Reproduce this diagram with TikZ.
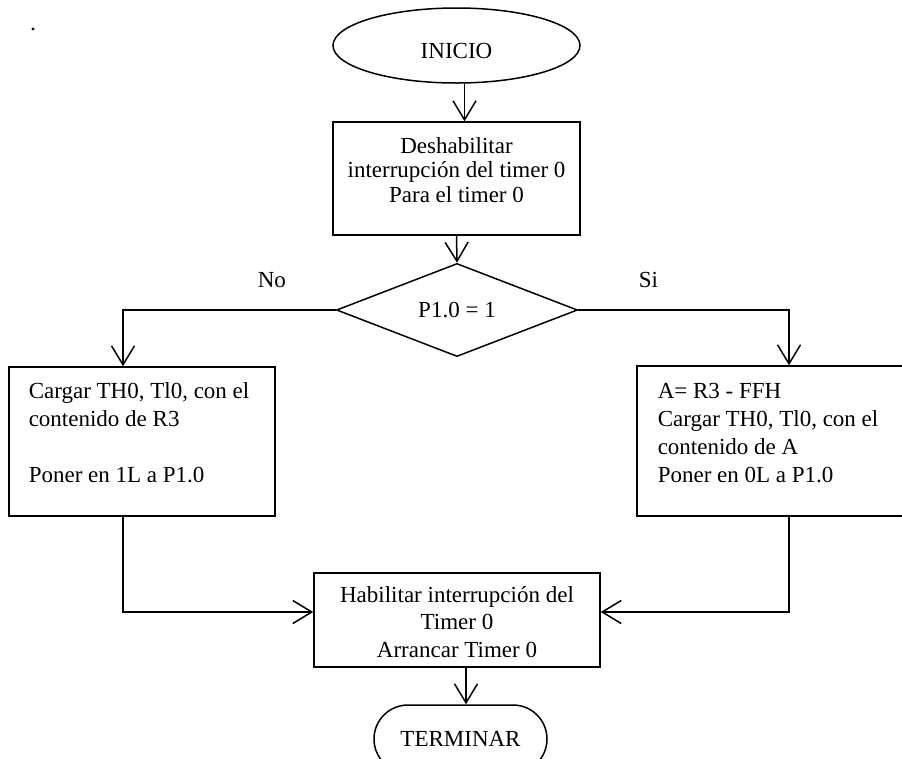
\documentclass[tikz,border=0pt]{standalone}
\usepackage{fontspec}
\setmainfont{Liberation Serif}
\usetikzlibrary{arrows.meta,shapes.geometric,shapes.misc}
\begin{document}
\begin{tikzpicture}[x=1pt,y=-1pt,
  line width=1.5pt,
  every node/.style={font=\fontsize{23}{28}\selectfont},
  arr/.style={-{Straight Barb[length=19pt,width=23pt]}},
  procbox/.style={draw, rectangle, inner sep=0pt},
  txt/.style={inner sep=0pt, align=center},
  ltxt/.style={inner sep=0pt, align=left, anchor=base west},
]
% page area
\useasboundingbox (0,0) rectangle (902,758);
\fill[white] (0,0) rectangle (902,758);
\fill (33,29) circle (1.6pt);

% start / end terminals
\node[draw, ellipse, inner sep=0pt, minimum width=247pt, minimum height=75pt,
      text height=25pt, text depth=0pt] (ini) at (456.5,45.5) {INICIO};
\node[draw, rounded rectangle, inner sep=0pt, minimum width=173pt,
      minimum height=68pt] (fin) at (460.5,739) {TERMINAR};

% process boxes (text anchored on the baseline of its last line)
\node[procbox, minimum width=247pt, minimum height=113pt] (b1) at (456.5,178.5) {};
\node[txt, anchor=base, font=\fontsize{23}{24.5}\selectfont] (b1t) at (456.5,202)
  {Deshabilitar\\interrupción del timer 0\\Para el timer 0};

\node[procbox, minimum width=266pt, minimum height=149pt] (lb) at (142,441.5) {};
\node[ltxt] (lbt) at (28,482)
  {Cargar TH0, Tl0, con el\\contenido de R3\\[28pt]Poner en 1L a P1.0};

\node[procbox, minimum width=266pt, minimum height=150pt] (rb) at (770,441) {};
\node[ltxt] (rbt) at (657,482)
  {A= R3 - FFH\\Cargar TH0, Tl0, con el\\contenido de A\\Poner en 0L a P1.0};

\node[procbox, minimum width=286pt, minimum height=94pt] (bot) at (457,620) {};
\node[txt, anchor=base, font=\fontsize{23}{27.5}\selectfont] (bott) at (457,657)
  {Habilitar interrupción del\\Timer 0\\Arrancar Timer 0};

% decision
\node[draw, diamond, inner sep=0pt, minimum width=241pt, minimum height=75pt]
  (dec) at (457,310) {P1.0 = 1};
\node[anchor=base west, inner sep=0pt] (no) at (257,287) {No};
\node[anchor=base west, inner sep=0pt] (si) at (638,287) {Si};

% connectors
\draw[arr] ([xshift=8pt]ini.south) -- ([xshift=8pt]ini.south |- b1.north);
\draw[arr] (b1.south) -- (dec.north);
\draw[arr] (dec.west) -| ([xshift=-19pt]lb.north);
\draw[arr] (dec.east) -| ([xshift=19pt]rb.north);
\draw[arr] ([xshift=-19pt]lb.south) |- ([yshift=8pt]bot.west);
\draw[arr] ([xshift=19pt]rb.south) |- ([yshift=8pt]bot.east);
\draw[arr] ([xshift=9pt]bot.south) -- ([xshift=9pt]bot.south |- fin.north);
\end{tikzpicture}
\end{document}
